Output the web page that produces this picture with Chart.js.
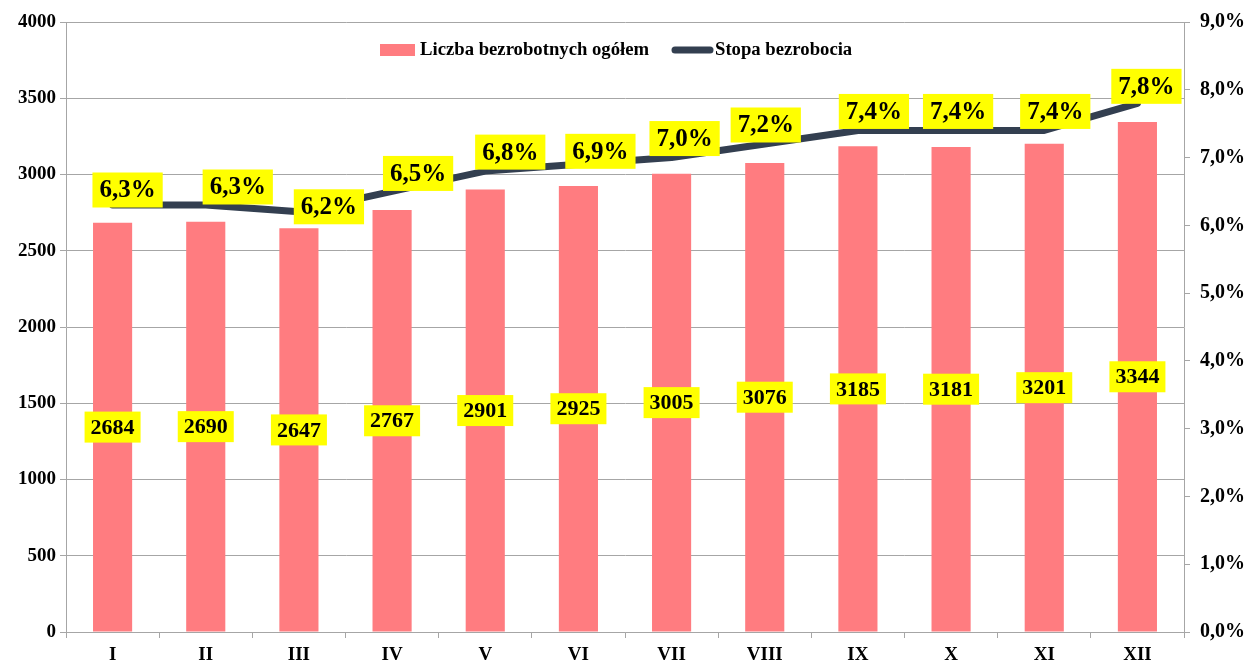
<!DOCTYPE html>
<html>
<head>
<meta charset="utf-8">
<script src="https://cdn.jsdelivr.net/npm/chart.js@4"></script>
<style>
  body { margin: 0; background: #fff; }
  #wrap { width: 1253px; height: 668px; position: relative; }
</style>
</head>
<body>
<div id="wrap"><canvas id="bezrobocieChart"></canvas></div>
<script>
// Dane wykresu
const miesiace = ["I", "II", "III", "IV", "V", "VI", "VII", "VIII", "IX", "X", "XI", "XII"];
const liczbaBezrobotnych = [2684, 2690, 2647, 2767, 2901, 2925, 3005, 3076, 3185, 3181, 3201, 3344];
const stopaBezrobocia = [6.3, 6.3, 6.2, 6.5, 6.8, 6.9, 7.0, 7.2, 7.4, 7.4, 7.4, 7.8];
const etykietySerii = ["Liczba bezrobotnych ogółem", "Stopa bezrobocia"];

// Przesunięcia etykiet procentowych (jak w oryginale, ręcznie poprzesuwane)
const przesuniecieX = [15, 32, 30, 26, 25, 22, 13, 1, 16, 7, 11, 9];
const przesuniecieY = [-15, -18, -5, -18, -19, -13, -19, -19, -19, -19, -19, -17];

const kolorSlupka = "#FF7C80";
const kolorLinii = "#333F50";
const kolorSiatki = "#A6A6A6";
const czcionka = "'Liberation Serif', 'Times New Roman', serif";

function fmtProc(v) {
  return v.toFixed(1).replace(".", ",") + "%";
}

// Etykieta w żółtym prostokącie
function rysujEtykiete(ctx, tekst, cx, cy, rozmiar, padX, h) {
  ctx.font = "bold " + rozmiar + "px " + czcionka;
  const w = ctx.measureText(tekst).width + padX * 2;
  ctx.fillStyle = "#FFFF00";
  ctx.fillRect(cx - w / 2, cy - h / 2, w, h);
  ctx.fillStyle = "#000";
  ctx.textAlign = "center";
  ctx.textBaseline = "middle";
  ctx.fillText(tekst, cx, cy + 1);
}

const etykietyPlugin = {
  id: "etykiety",
  afterDatasetsDraw(chart) {
    const ctx = chart.ctx;
    ctx.save();
    // etykiety słupków
    chart.getDatasetMeta(1).data.forEach((bar, i) => {
      const srodek = (bar.y + bar.base) / 2;
      rysujEtykiete(ctx, String(liczbaBezrobotnych[i]), bar.x, srodek, 22, 6, 31);
    });
    // etykiety linii
    chart.getDatasetMeta(0).data.forEach((pt, i) => {
      rysujEtykiete(ctx, fmtProc(stopaBezrobocia[i]), pt.x + przesuniecieX[i], pt.y + przesuniecieY[i], 25, 7, 35);
    });

    // legenda
    ctx.font = "bold 18.7px " + czcionka;
    ctx.textAlign = "left";
    ctx.textBaseline = "middle";
    ctx.fillStyle = kolorSlupka;
    ctx.fillRect(380, 44, 35, 12);
    ctx.fillStyle = "#000";
    ctx.fillText(etykietySerii[0], 420, 50);
    ctx.strokeStyle = kolorLinii;
    ctx.lineWidth = 7;
    ctx.lineCap = "round";
    ctx.beginPath();
    ctx.moveTo(675, 50);
    ctx.lineTo(710, 50);
    ctx.stroke();
    ctx.fillText(etykietySerii[1], 715, 50);
    ctx.restore();
  },
};

new Chart(document.getElementById("bezrobocieChart").getContext("2d"), {
  data: {
    labels: miesiace,
    datasets: [
      {
        type: "line",
        label: etykietySerii[1],
        data: stopaBezrobocia,
        yAxisID: "y1",
        borderColor: kolorLinii,
        borderWidth: 7,
        pointRadius: 0,
        borderCapStyle: "round",
        borderJoinStyle: "round",
        tension: 0,
        order: 0,
      },
      {
        type: "bar",
        label: etykietySerii[0],
        data: liczbaBezrobotnych,
        yAxisID: "y",
        backgroundColor: kolorSlupka,
        categoryPercentage: 1,
        barPercentage: 0.42,
        order: 1,
      },
    ],
  },
  options: {
    responsive: true,
    maintainAspectRatio: false,
    animation: false,
    layout: { padding: { top: 21, right: 0, left: 0, bottom: 0 } },
    plugins: {
      legend: { display: false },
      tooltip: { enabled: false },
    },
    scales: {
      x: {
        offset: true,
        grid: {
          offset: true,
          drawOnChartArea: false,
          tickLength: 6,
          color: kolorSiatki,
        },
        border: { color: kolorSiatki },
        ticks: {
          color: "#000",
          padding: 6,
          font: { family: czcionka, size: 19, weight: "bold" },
        },
        afterFit(s) { s.height = 36; },
      },
      y: {
        position: "left",
        min: 0,
        max: 4000,
        ticks: {
          stepSize: 500,
          color: "#000",
          padding: 4,
          font: { family: czcionka, size: 19, weight: "bold" },
          callback: (v) => String(v),
        },
        grid: { color: kolorSiatki, tickLength: 6 },
        border: { color: kolorSiatki },
        afterFit(s) { s.width = 66; },
      },
      y1: {
        position: "right",
        min: 0,
        max: 9,
        ticks: {
          stepSize: 1,
          color: "#000",
          padding: 10,
          font: { family: czcionka, size: 20, weight: "bold" },
          callback: (v) => fmtProc(v),
        },
        grid: { drawOnChartArea: false, color: kolorSiatki, tickLength: 6 },
        border: { color: kolorSiatki },
        afterFit(s) { s.width = 69; },
      },
    },
  },
  plugins: [etykietyPlugin],
});
</script>
</body>
</html>
